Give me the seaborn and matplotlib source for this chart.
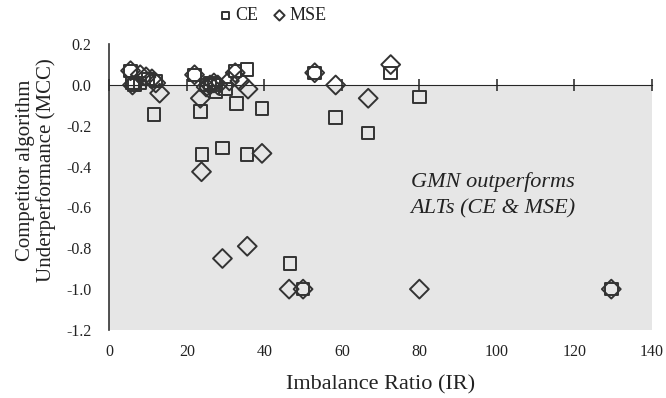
import numpy as np
import pandas as pd
import matplotlib
matplotlib.use("Agg")
import matplotlib.pyplot as plt
import seaborn as sns

# Imbalance ratio vs. competitor under-performance (MCC)
ce_ir = [5.5, 6, 6.5, 8, 10, 12, 11.5, 22, 23.5, 24, 25, 26, 27, 27.5, 29.2,
         30, 32.5, 32.8, 35.5, 35.6, 39.4, 46.6, 50, 53, 58.4, 66.8, 72.6, 80, 129.5]
ce_mcc = [0.07, 0.01, 0.0, 0.01, 0.03, 0.02, -0.145, 0.05, -0.13, -0.34, 0.0, 0.01, 0.0, -0.035, -0.31,
          -0.02, 0.07, -0.09, 0.075, -0.34, -0.115, -0.875, -1.0, 0.06, -0.16, -0.235, 0.06, -0.06, -1.0]

mse_ir = [5.5, 6, 8, 9.5, 11, 12, 13, 22, 23.5, 23.8, 25, 26, 27, 28, 29.2,
          31, 32.5, 33.7, 35.6, 35.8, 39.4, 46.4, 50, 53, 58.4, 66.8, 72.6, 80, 129.5]
mse_mcc = [0.07, 0.0, 0.05, 0.04, 0.03, 0.01, -0.04, 0.05, -0.065, -0.425, -0.01, 0.0, 0.01, 0.0, -0.85,
           0.02, 0.06, 0.02, -0.79, -0.02, -0.335, -1.0, -1.0, 0.06, 0.0, -0.065, 0.10, -1.0, -1.0]

x_ticks = [0, 20, 40, 60, 80, 100, 120, 140]
y_ticks = [-1.2, -1.0, -0.8, -0.6, -0.4, -0.2, 0.0, 0.2]

sns.set_style("white")
plt.rcParams["font.family"] = ["Liberation Serif", "DejaVu Serif"]

ink = "#333333"
fig, ax = plt.subplots(figsize=(6.66, 3.98), dpi=100)
fig.subplots_adjust(left=0.164, right=0.979, top=0.889, bottom=0.171)

# shaded "GMN wins" region below zero
ax.axhspan(-1.2, 0, color="#e6e6e6", zorder=0, lw=0)

sns.scatterplot(x=ce_ir, y=ce_mcc, marker="s", s=80, facecolor="none",
                edgecolor=ink, linewidth=1.4, label="CE", ax=ax, zorder=3)
sns.scatterplot(x=mse_ir, y=mse_mcc, marker="D", s=92, facecolor="none",
                edgecolor=ink, linewidth=1.4, label="MSE", ax=ax, zorder=3)

ax.set_xlim(0, 140)
ax.set_ylim(-1.2, 0.2)
ax.set_yticks(y_ticks)
ax.set_yticklabels([f"{v:.1f}" for v in y_ticks])
ax.set_xticks(x_ticks)

for side in ["top", "right", "bottom"]:
    ax.spines[side].set_visible(False)
ax.spines["left"].set_color(ink)
ax.spines["left"].set_linewidth(1.2)
ax.tick_params(axis="y", direction="out", length=5, width=1.2, color=ink,
               labelsize=11.5, labelcolor="#222222", pad=8)
ax.tick_params(axis="x", length=0, labelsize=11.5, labelcolor="#222222", pad=10)

# horizontal axis line crossing at zero
zero_frac = (0 - (-1.2)) / (0.2 - (-1.2))
sec = ax.secondary_xaxis(zero_frac)
sec.set_xticks(x_ticks)
sec.tick_params(direction="inout", length=9, width=1.2, color=ink, labelbottom=False, labeltop=False)
sec.spines["bottom"].set_color(ink)
sec.spines["bottom"].set_linewidth(1.2)

ax.set_xlabel("Imbalance Ratio (IR)", fontsize=16, color="#222222", labelpad=11)
ax.set_ylabel("Competitor algorithm\nUnderperformance (MCC)", fontsize=15,
              color="#222222", linespacing=1.05)
ax.yaxis.set_label_coords(-0.098, 0.56)

ax.text(99, -0.54, "GMN outperforms\nALTs (CE & MSE)", ha="center", va="center",
        style="italic", fontsize=16, color="#222222", linespacing=1.45)

ax.legend(loc="center", bbox_to_anchor=(0.30, 1.10), ncol=2, frameon=False,
          fontsize=13, markerscale=0.55, handlelength=0.9, handletextpad=0.1,
          columnspacing=0.7, labelcolor="#222222")

plt.savefig("out.png", dpi=100)
